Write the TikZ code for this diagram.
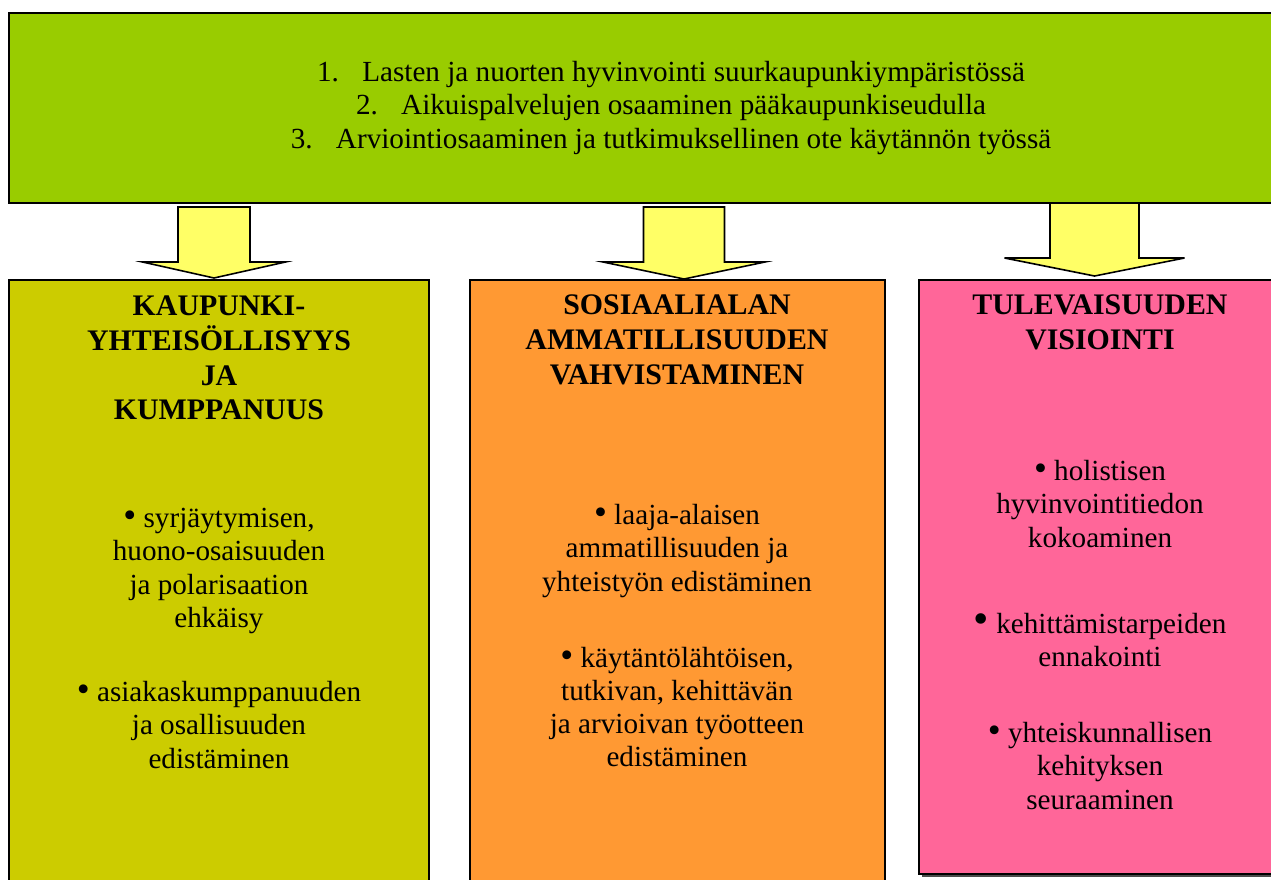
\documentclass[tikz,border=0pt]{standalone}
\usepackage{fontspec}
\setmainfont{Liberation Serif}
\definecolor{topgreen}{HTML}{99CC00}
\definecolor{olivebox}{HTML}{CCCC00}
\definecolor{orangebox}{HTML}{FF9933}
\definecolor{pinkbox}{HTML}{FF6699}
\definecolor{arrowyellow}{HTML}{FFFF66}
\newcommand{\blockarrow}[6]{%
  \filldraw[arrowbox] (#1-#2,#4) -- (#1+#2,#4) -- (#1+#2,#5) -- (#1+#3,#5)
    -- (#1,#6) -- (#1-#3,#5) -- (#1-#2,#5) -- cycle;}
\newcommand{\bul}{{\fontsize{21}{0}\selectfont\textbullet}\ }
\newcommand{\bigbul}{{\fontsize{25}{0}\selectfont\textbullet}\ }

\begin{document}
\begin{tikzpicture}[x=0.02cm, y=-0.02cm,
    panel/.style={draw=black, line width=0.9pt},
    arrowbox/.style={draw=black, line width=0.9pt, fill=arrowyellow, line join=miter},
    txt/.style={align=center, inner sep=0pt, font=\fontsize{16.6}{18.8}\selectfont},
    head/.style={txt, font=\fontsize{17}{19.8}\selectfont\bfseries}]
  \useasboundingbox (0,0) rectangle (1271,879);
  % top box
  \filldraw[panel, fill=topgreen] (9,13) rectangle (1290,203);
  \node[txt] (goals) at (671,108) {1.\hspace{0.8em}Lasten ja nuorten hyvinvointi suurkaupunkiympäristössä\\
    2.\hspace{0.8em}Aikuispalvelujen osaaminen pääkaupunkiseudulla\\
    3.\hspace{0.8em}Arviointiosaaminen ja tutkimuksellinen ote käytännön työssä};
  % arrows
  \blockarrow{214}{36}{71.5}{207}{262}{278}
  \blockarrow{684}{40.5}{81}{207}{262}{279}
  \blockarrow{1094.5}{44.5}{90}{203}{258}{276}
  % lower boxes
  \filldraw[panel, fill=olivebox] (9,280) rectangle (429,900);
  \filldraw[panel, fill=orangebox] (470,280) rectangle (885,900);
  \fill[black!70] (922,283) rectangle (1293,877);
  \filldraw[panel, fill=pinkbox] (919,280) rectangle (1290,874);
  % box 1
  \node[head] (cityhead) at (219,358) {KAUPUNKI-\\YHTEISÖLLISYYS\\JA\\KUMPPANUUS};
  \node[txt] (citya) at (219,571) {\bul syrjäytymisen,\\huono-osaisuuden\\ja polarisaation\\ehkäisy};
  \node[txt] (cityb) at (219,725) {\bul asiakaskumppanuuden\\ja osallisuuden\\edistäminen};
  % box 2
  \node[head] (prohead) at (677,340) {SOSIAALIALAN\\AMMATILLISUUDEN\\VAHVISTAMINEN};
  \node[txt] (proa) at (677,551) {\bul laaja-alaisen\\ammatillisuuden ja\\yhteistyön edistäminen};
  \node[txt] (prob) at (677,707) {\bul käytäntölähtöisen,\\tutkivan, kehittävän\\ja arvioivan työotteen\\edistäminen};
  % box 3
  \node[head] (futhead) at (1100,322) {TULEVAISUUDEN\\VISIOINTI};
  \node[txt] (futa) at (1100,504) {\bul holistisen\\hyvinvointitiedon\\kokoaminen};
  \node[txt] (futb) at (1100,640) {\bigbul kehittämistarpeiden\\ennakointi};
  \node[txt] (futc) at (1100,766) {\bul yhteiskunnallisen\\kehityksen\\seuraaminen};
\end{tikzpicture}
\end{document}
